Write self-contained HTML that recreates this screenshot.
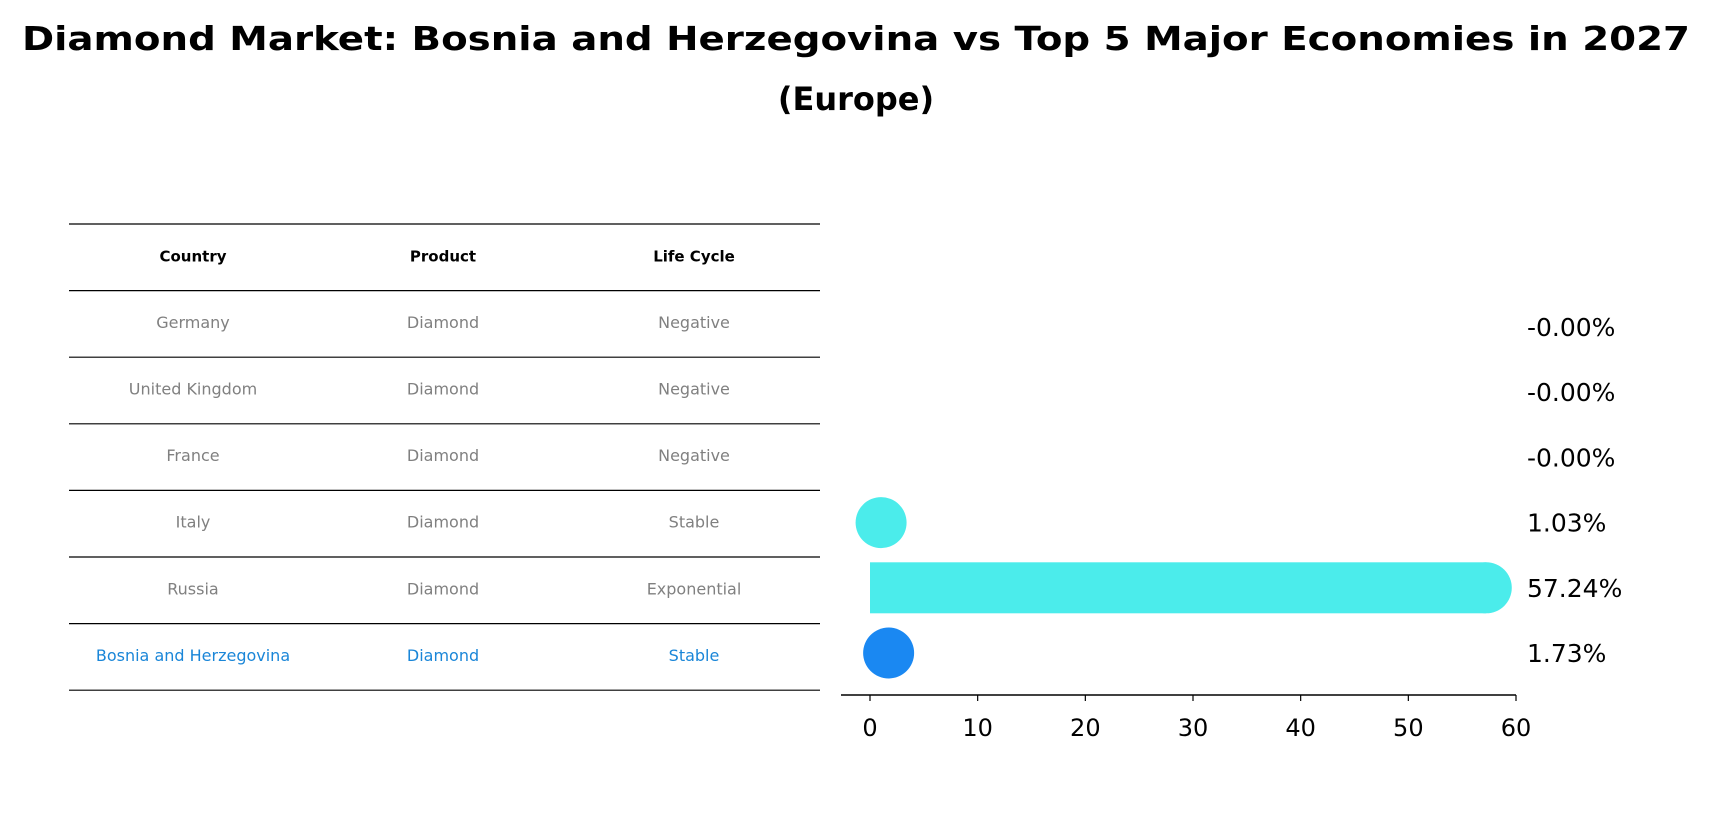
<!DOCTYPE html>
<html><head><meta charset="utf-8"><style>
html,body{margin:0;padding:0;background:#fff;}
svg{display:block;font-family:"DejaVu Sans","Liberation Sans",sans-serif;}
</style></head><body>
<svg id="chart" width="1712" height="823" viewBox="0 0 1712 823" xmlns="http://www.w3.org/2000/svg">
<text x="856" y="50" text-anchor="middle" font-size="33" font-weight="bold" textLength="1668" lengthAdjust="spacingAndGlyphs">Diamond Market: Bosnia and Herzegovina vs Top 5 Major Economies in 2027</text>
<text x="856" y="110" text-anchor="middle" font-size="32" font-weight="bold">(Europe)</text>
<g id="table"></g>
<g id="bars"></g>
</svg>
<script>
const countries = ["Germany","United Kingdom","France","Italy","Russia","Bosnia and Herzegovina"];
const products = ["Diamond","Diamond","Diamond","Diamond","Diamond","Diamond"];
const lifeCycles = ["Negative","Negative","Negative","Stable","Exponential","Stable"];
const values = [-0.00001,-0.00001,-0.00001,1.03,57.24,1.73];
const valueLabels = ["-0.00%","-0.00%","-0.00%","1.03%","57.24%","1.73%"];
const xTicks = [0,10,20,30,40,50,60];

const NS="http://www.w3.org/2000/svg";
function mk(tag,attrs,parent,text){const e=document.createElementNS(NS,tag);for(const k in attrs)e.setAttribute(k,attrs[k]);if(text!==undefined)e.textContent=text;parent.appendChild(e);return e;}

// table
const tbl=document.getElementById('table');
const tx0=69,tx1=820,ty0=224,rowH=66.6;
const colX=[193,443,694];
for(let i=0;i<=countries.length+1;i++){
  const l=mk('line',{x1:tx0,x2:tx1,y1:ty0+i*rowH,y2:ty0+i*rowH,stroke:'#000','stroke-width':1.2},tbl);
  
  
}
["Country","Product","Life Cycle"].forEach((h,j)=>{
  const t=mk('text',{x:colX[j],y:ty0+rowH/2+4,'text-anchor':'middle','font-size':15,'font-weight':'bold'},tbl,h);
  
  
});
countries.forEach((c,i)=>{
  const y=ty0+(i+1)*rowH+rowH/2+4;
  const col=i===countries.length-1?'#1a86d8':'#808080';
  [c,products[i],lifeCycles[i]].forEach((v,j)=>{
    const t=mk('text',{x:colX[j],y:y,'text-anchor':'middle','font-size':16,fill:col},tbl,v);
    
    
  });
});

// bar chart
const g=document.getElementById('bars');
const X0=870,PX=(1516-870)/60;
function xs(v){return X0+v*PX;}
const rowY0=327,rowStep=65.2,barH=51;
function ys(i){return rowY0+i*rowStep;}
values.forEach((v,i)=>{
  const col=i===values.length-1?'#1a88f2':'#4beceb';
  if(v>0){
    const w=xs(v)-xs(0);
    if(w>barH/2){
      const r=mk('rect',{x:xs(0),y:ys(i)-barH/2,width:w,height:barH,fill:col},g);
      
      
    }
    const c=mk('ellipse',{cx:xs(v),cy:ys(i),rx:barH/2,ry:barH/2,fill:col},g);
    
    
  }
  const t=mk('text',{x:1527,y:ys(i)+9,'font-size':25},g,valueLabels[i]);
  
  
});
const ax=mk('line',{x1:841,x2:1516,y1:695,y2:695,stroke:'#000','stroke-width':1.4},g);


xTicks.forEach(v=>{
  const tk=mk('line',{x1:xs(v),x2:xs(v),y1:695,y2:701,stroke:'#000','stroke-width':1.2},g);
  
  
  const t=mk('text',{x:xs(v),y:736,'text-anchor':'middle','font-size':24},g,String(v));
  
  
});
</script>
</body></html>
